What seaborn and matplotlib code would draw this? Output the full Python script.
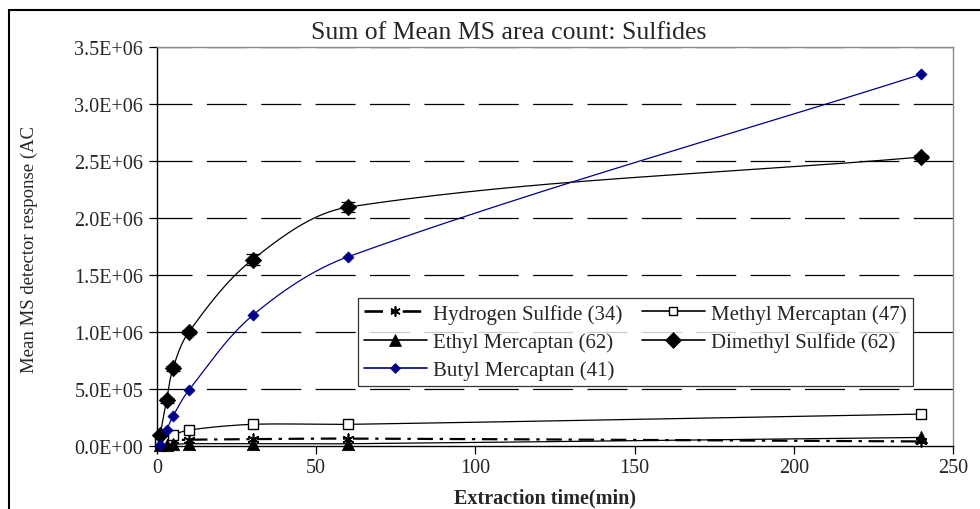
import numpy as np
import pandas as pd
import matplotlib
matplotlib.use("Agg")
import matplotlib.pyplot as plt
from matplotlib.lines import Line2D
import seaborn as sns

# ---------------- data ----------------
time_min = [1, 3, 5, 10, 30, 60, 240]
hydrogen_sulfide = [0.02e6, 0.04e6, 0.05e6, 0.055e6, 0.06e6, 0.065e6, 0.04e6]
methyl_mercaptan = [0.03e6, 0.06e6, 0.095e6, 0.14e6, 0.19e6, 0.19e6, 0.28e6]
ethyl_mercaptan = [0.005e6, 0.01e6, 0.015e6, 0.02e6, 0.02e6, 0.02e6, 0.075e6]
dimethyl_sulfide = [0.10e6, 0.40e6, 0.68e6, 1.00e6, 1.635e6, 2.095e6, 2.535e6]
dimethyl_sulfide_err = [0.01e6, 0.02e6, 0.02e6, 0.02e6, 0.045e6, 0.045e6, 0.02e6]
butyl_mercaptan = [0.01e6, 0.14e6, 0.26e6, 0.49e6, 1.145e6, 1.66e6, 3.26e6]

series_names = ["Hydrogen Sulfide (34)", "Methyl Mercaptan (47)",
                "Ethyl Mercaptan (62)", "Dimethyl Sulfide (62)",
                "Butyl Mercaptan (41)"]
x_ticks = [0, 50, 100, 150, 200, 250]
y_ticks = [0, 0.5e6, 1.0e6, 1.5e6, 2.0e6, 2.5e6, 3.0e6, 3.5e6]
y_tick_labels = ["0.0E+00", "5.0E+05", "1.0E+06", "1.5E+06", "2.0E+06",
                 "2.5E+06", "3.0E+06", "3.5E+06"]
title = "Sum of Mean MS area count: Sulfides"
x_label = "Extraction time(min)"
y_label = "Mean MS detector response (AC"

# ---------------- style ----------------
sns.set_theme(style="white")
plt.rcParams["font.family"] = ["Liberation Serif", "DejaVu Serif"]

XMAX, YMAX = 250, 3.5e6
fig = plt.figure(figsize=(9.8, 5.1), dpi=100)
ax = fig.add_axes([157 / 980, 63 / 510, 796 / 980, 399 / 510])
AX_W, AX_H = 796.0, 399.0


def smooth(xs, ys, n=60, k=0.33):
    """Excel-like smoothed line drawn as Bezier segments in screen space."""
    px = np.asarray(xs, float) / XMAX * AX_W
    py = np.asarray(ys, float) / YMAX * AX_H
    P = np.column_stack([px, py])
    N = len(P)
    tang = []
    for i in range(N):
        a = P[max(i - 1, 0)]
        b = P[min(i + 1, N - 1)]
        d = b - a
        tang.append(d / (np.linalg.norm(d) + 1e-12))
    out = [P[0]]
    for i in range(N - 1):
        p1, p2 = P[i], P[i + 1]
        L = np.linalg.norm(p2 - p1)
        c1 = p1 + tang[i] * L * k
        c2 = p2 - tang[i + 1] * L * k
        t = np.linspace(0, 1, n)[1:, None]
        seg = ((1 - t) ** 3) * p1 + 3 * ((1 - t) ** 2) * t * c1 + \
            3 * (1 - t) * t ** 2 * c2 + t ** 3 * p2
        out.extend(seg)
    out = np.array(out)
    return pd.DataFrame({"x": out[:, 0] / AX_W * XMAX,
                         "y": out[:, 1] / AX_H * YMAX})


asterisk = (6, 2, 0)
styles = [
    dict(vals=hydrogen_sulfide, color="black", ls=(0, (7, 3, 1.5, 3)), lw=1.6,
         marker=asterisk, ms=60, fc="black", ec="black", mlw=1.2),
    dict(vals=methyl_mercaptan, color="black", ls="-", lw=0.9,
         marker="s", ms=45, fc="white", ec="black", mlw=1.0),
    dict(vals=ethyl_mercaptan, color="black", ls="-", lw=0.9,
         marker="^", ms=80, fc="black", ec="black", mlw=0.5),
    dict(vals=dimethyl_sulfide, color="black", ls="-", lw=0.9,
         marker="D", ms=70, fc="black", ec="black", mlw=0.5),
    dict(vals=butyl_mercaptan, color="#00008B", ls="-", lw=0.9,
         marker="D", ms=32, fc="#00008B", ec="#00008B", mlw=0.5),
]

# error bars on Dimethyl Sulfide
ax.errorbar(time_min, dimethyl_sulfide, yerr=dimethyl_sulfide_err, fmt="none",
            ecolor="black", elinewidth=0.9, capsize=5, capthick=0.9, zorder=3)

for name, st in zip(series_names, styles):
    curve = smooth(time_min, st["vals"])
    sns.lineplot(data=curve, x="x", y="y", ax=ax, sort=False, estimator=None,
                 color=st["color"], linewidth=st["lw"], linestyle=st["ls"],
                 legend=False, zorder=2)
    pts = pd.DataFrame({"x": time_min, "y": st["vals"]})
    sns.scatterplot(data=pts, x="x", y="y", ax=ax, marker=st["marker"],
                    s=st["ms"], color=st["fc"], edgecolor=st["ec"],
                    linewidth=st["mlw"], legend=False, zorder=4, clip_on=False)

# ---------------- axes ----------------
ax.set_xlim(0, XMAX)
ax.set_ylim(0, YMAX)
ax.set_xticks(x_ticks)
ax.set_xticklabels([str(v) for v in x_ticks], fontsize=14.5)
ax.set_yticks(y_ticks)
ax.set_yticklabels(y_tick_labels, fontsize=14.5)
ax.tick_params(axis="both", direction="out", length=6, width=0.9,
               color="black", pad=4, bottom=True, left=True)
ax.tick_params(axis="x", pad=3)
ax.set_xlabel(x_label, fontsize=14.5, fontweight="bold")
ax.xaxis.set_label_coords(0.488, -0.105)
ax.set_ylabel(y_label, fontsize=13.5)
ax.yaxis.set_label_coords(-0.150, 0.495)
fig.text(509 / 980, 1 - 33 / 510, title, fontsize=18.5,
         ha="center", va="center")

for y in y_ticks[1:]:
    ax.axhline(y, color="black", lw=0.9, ls=(4, (32, 11.5)), zorder=1)

for s in ["left", "bottom"]:
    ax.spines[s].set_color("black")
    ax.spines[s].set_linewidth(1.0)
for s in ["top", "right"]:
    ax.spines[s].set_color("#8a8a8a")
    ax.spines[s].set_linewidth(1.0)
ax.set_facecolor("white")

# ---------------- legend ----------------
handles = []
for st in styles:
    handles.append(Line2D([0], [0], color=st["color"], lw=st["lw"] + 0.3,
                          linestyle=st["ls"], marker=st["marker"],
                          markersize=np.sqrt(st["ms"]) * 0.95,
                          markerfacecolor=st["fc"], markeredgecolor=st["ec"],
                          markeredgewidth=st["mlw"]))
order = [0, 2, 4, 1, 3]
leg = ax.legend([handles[i] for i in order], [series_names[i] for i in order],
                ncol=2, loc="upper left", bbox_to_anchor=(0.2525, 0.372),
                fontsize=15, frameon=True, fancybox=False, shadow=False,
                edgecolor="black", handlelength=3.0, handletextpad=0.3,
                columnspacing=0.95, labelspacing=0.4, borderpad=0.3,
                borderaxespad=0)
leg.get_frame().set_linewidth(0.9)

# outer chart border (top and left visible)
fig.add_artist(Line2D([9 / 980, 1.0], [1 - 11 / 510, 1 - 11 / 510],
                      color="black", lw=1.5, transform=fig.transFigure))
fig.add_artist(Line2D([9 / 980, 9 / 980], [0.0, 1 - 11 / 510],
                      color="black", lw=1.5, transform=fig.transFigure))

fig.savefig("out.png", dpi=100, facecolor="white")
